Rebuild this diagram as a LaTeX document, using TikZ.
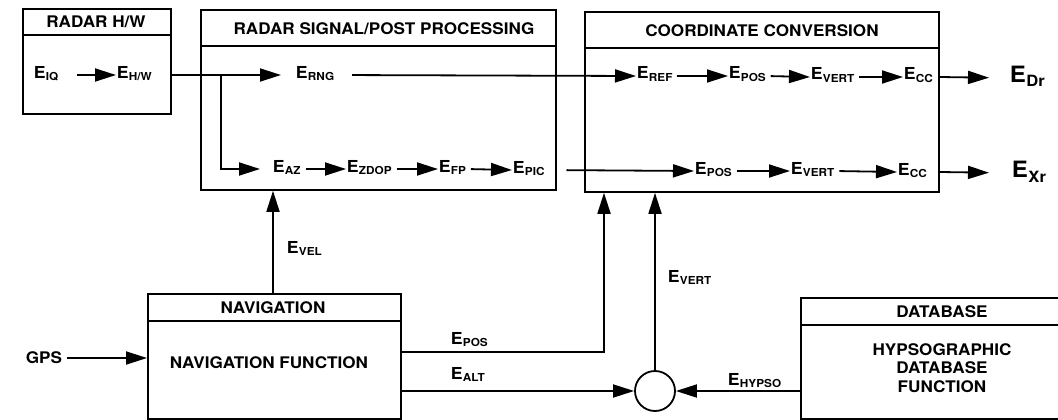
\documentclass[tikz,border=0pt]{standalone}
\usepackage{fontspec}
\setmainfont{TeX Gyre Heros}[FakeStretch=1.07]
\usetikzlibrary{arrows.meta,calc}
\newcommand\EE[1]{E\kern0.3pt\raisebox{-2.5pt}{\fontsize{11}{11}\selectfont #1}}
\newcommand\EB[1]{E\kern0.5pt\raisebox{-4.5pt}{\fontsize{15.5}{15.5}\selectfont #1}}
\begin{document}
\begin{tikzpicture}[x=1pt,y=-1pt,
  line width=1.8pt,
  arr/.style={-{Triangle[length=21pt,width=13pt]}, shorten <=4pt},
  blk/.style={draw, line width=1.8pt, anchor=north west, inner sep=0pt},
  ttl/.style={font=\bfseries\fontsize{16}{16}\selectfont, inner sep=0pt},
  lbl/.style={font=\bfseries\fontsize{16.5}{16.5}\selectfont, inner xsep=0pt, inner ysep=0pt, text height=11pt, text depth=5pt, anchor=west},
  big/.style={font=\bfseries\fontsize{22.5}{22.5}\selectfont, inner xsep=0pt, inner ysep=0pt, text height=16pt, text depth=7pt, anchor=west},
  sumc/.style={draw, circle, line width=1.8pt, minimum size=40pt, inner sep=0pt}]
\useasboundingbox (0,0) rectangle (1058,420);

% blocks
\node[blk, minimum width=148pt, minimum height=105pt] (hw) at (22,8) {};
\draw (22,35) -- (170,35);
\node[ttl] (hwt) at (96,22) {RADAR H/W};

\node[blk, minimum width=355pt, minimum height=180pt] (sig) at (200,9) {};
\draw (200,46) -- (555,46);
\node[ttl] (sigt) at (384,29) {RADAR SIGNAL/POST PROCESSING};

\node[blk, minimum width=354pt, minimum height=180pt] (cc) at (584,11) {};
\draw (584,48) -- (938,48);
\node[ttl] (cct) at (762,31) {COORDINATE CONVERSION};

\node[blk, minimum width=253pt, minimum height=125pt] (nav) at (147,293) {};
\draw (147,321) -- (400,321);
\node[ttl] (navt) at (273,307.5) {NAVIGATION};
\node[ttl] (navf) at (269,363) {NAVIGATION FUNCTION};

\node[blk, minimum width=262pt, minimum height=121pt] (db) at (800,297) {};
\draw (800,325) -- (1062,325);
\node[ttl] (dbt) at (942,312) {DATABASE};
\node[ttl, align=center, font=\bfseries\fontsize{16}{18.5}\selectfont] (dbf) at (942,368) {HYPSOGRAPHIC\\DATABASE\\FUNCTION};

% row 1
\node[lbl] (eiq) at (33,75) {\EE{IQ}};
\node[lbl] (ehw) at (116,75) {\EE{H/W}};
\node[lbl] (erng) at (295,75) {\EE{RNG}};
\node[lbl] (eref) at (636,76) {\EE{REF}};
\node[lbl] (epos1) at (728,76) {\EE{POS}};
\node[lbl] (evert1) at (810,77) {\EE{VERT}};
\node[lbl] (ecc1) at (903,77) {\EE{CC}};
\node[big] (edr) at (1009,78) {\EB{Dr}};

% row 2
\node[lbl] (eaz) at (272,169) {\EE{AZ}};
\node[lbl] (ezdop) at (346,169) {\EE{ZDOP}};
\node[lbl] (efp) at (438,169) {\EE{FP}};
\node[lbl] (epic) at (512,170) {\EE{PIC}};
\node[lbl] (epos2) at (694,171) {\EE{POS}};
\node[lbl] (evert2) at (790,171) {\EE{VERT}};
\node[lbl] (ecc2) at (897,172) {\EE{CC}};
\node[big] (exr) at (1011,173) {\EB{Xr}};

\coordinate (br) at (221,75);

\draw[arr, shorten <=18pt] (eiq.east) -- (ehw.west);
\draw[arr, shorten <=0pt, shorten >=14pt] (hw.east |- ehw.east) -- (erng.west);
\draw[arr, shorten <=0pt] (br) |- ([xshift=-12pt]eaz.west);
\draw[arr, shorten <=17pt] (erng.east) -- (eref.west);
\draw[arr] (eref.east) -- (epos1.west);
\draw[arr] (epos1.east) -- (evert1.west);
\draw[arr] (evert1.east) -- (ecc1.west);
\draw[arr, shorten <=0pt, shorten >=20pt] (cc.east |- ecc1.east) -- (edr.west);

\draw[arr] (eaz.east) -- (ezdop.west);
\draw[arr] (ezdop.east) -- (efp.west);
\draw[arr] (efp.east) -- (epic.west);
\draw[arr, shorten <=21pt] (epic.east) -- (epos2.west);
\draw[arr] (epos2.east) -- (evert2.west);
\draw[arr] (evert2.east) -- (ecc2.west);
\draw[arr, shorten <=0pt, shorten >=22pt] (cc.east |- ecc2.east) -- (exr.west);

% navigation links
\coordinate (velb) at (273,293);
\draw[arr, shorten <=0pt] (velb) -- (velb |- sig.south);
\node[lbl] (evel) at (286,250) {\EE{VEL}};

\node[ttl, anchor=west] (gps) at (25,358) {GPS};
\draw[arr, shorten <=4pt] (gps.east) -- (gps.east -| nav.west);

\node[sumc] (circ) at (655,391) {};
\coordinate (posc) at (604,352);
\draw[arr, shorten <=0pt] (nav.east |- posc) -- (posc) -- (posc |- cc.south);
\node[lbl] (epos3) at (450,341) {\EE{POS}};
\draw[arr, shorten <=0pt] (nav.east |- circ.west) -- (circ.west);
\node[lbl] (ealt) at (450,376) {\EE{ALT}};
\draw[arr, shorten <=0pt] (db.west |- circ.east) -- (circ.east);
\node[lbl] (ehyp) at (727,382) {\EE{HYPSO}};
\draw[arr, shorten <=0pt] (circ.north) -- (circ.north |- cc.south);
\node[lbl] (evert3) at (667,279) {\EE{VERT}};
\end{tikzpicture}
\end{document}
